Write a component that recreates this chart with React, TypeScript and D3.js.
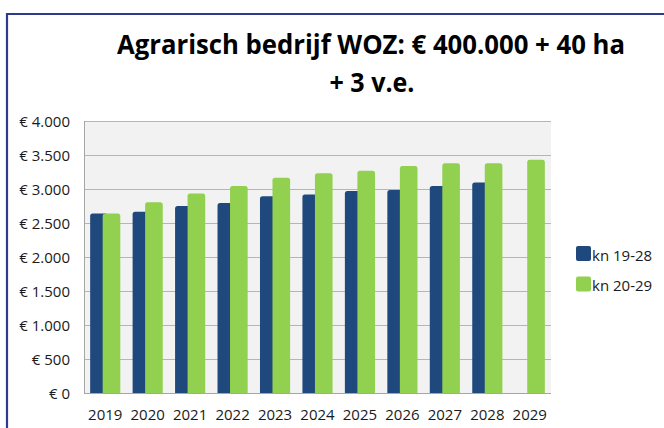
import * as d3 from "d3";

const years = ["2019", "2020", "2021", "2022", "2023", "2024", "2025", "2026", "2027", "2028", "2029"];
const kn1928: (number | null)[] = [2640, 2665, 2750, 2795, 2895, 2920, 2970, 2985, 3045, 3095, null];
const kn2029: number[] = [2640, 2805, 2935, 3045, 3165, 3230, 3270, 3340, 3380, 3380, 3430];
const seriesNames = ["kn 19-28", "kn 20-29"];
const yTicks = [0, 500, 1000, 1500, 2000, 2500, 3000, 3500, 4000];

const W = 664;
const H = 428;
const plot = { left: 84, right: 551, top: 121, bottom: 393 };
const colors = ["#1f497d", "#92d050"];
const font = "'Open Sans', 'Noto Sans', sans-serif";

// bar with rounded top corners
function topRounded(x: number, y: number, w: number, h: number, r: number) {
  const rr = Math.min(r, h, w / 2);
  return `M${x},${y + h}V${y + rr}Q${x},${y} ${x + rr},${y}H${x + w - rr}Q${x + w},${y} ${x + w},${y + rr}V${y + h}Z`;
}

const fmt = (v: number) => "€ " + (v === 0 ? "0" : d3.format(",")(v).replace(",", "."));

export default function App() {
  const x = d3
    .scaleBand<string>()
    .domain(years)
    .range([plot.left, plot.right])
    .paddingInner(0.29)
    .paddingOuter(0.145);
  const y = d3.scaleLinear().domain([0, 4000]).range([plot.bottom, plot.top]);
  const bw = x.bandwidth();
  const barW = bw * 0.585;

  return (
    <svg width={W} height={H} style={{ position: "absolute", left: 0, top: 0 }}>
      <rect x={0} y={0} width={W} height={H} fill="#fff" />
      {/* frame */}
      <path d={`M7,${H}V14H${W}`} fill="none" stroke="#2e3a8c" strokeWidth={2.2} />

      {/* title */}
      <text
        x={371}
        y={54}
        textAnchor="middle"
        fontFamily={font}
        fontWeight="bold"
        fontSize={26}
        fill="#000"
        textLength={508}
        lengthAdjust="spacingAndGlyphs"
      >
        Agrarisch bedrijf WOZ: € 400.000 + 40 ha
      </text>
      <text
        x={372}
        y={91.5}
        textAnchor="middle"
        fontFamily={font}
        fontWeight="bold"
        fontSize={26}
        fill="#000"
        textLength={85}
        lengthAdjust="spacingAndGlyphs"
      >
        + 3 v.e.
      </text>

      {/* plot area */}
      <rect x={plot.left} y={plot.top} width={plot.right - plot.left} height={plot.bottom - plot.top} fill="#f2f2f2" />
      {yTicks.map((t) => (
        <g key={t}>
          <line x1={plot.left} x2={plot.right} y1={Math.round(y(t)) + 0.5} y2={Math.round(y(t)) + 0.5} stroke="#b5b5b5" strokeWidth={1} />
          <text x={70} y={y(t) + 5.5} textAnchor="end" fontFamily={font} fontSize={15} fill="#1a1a1a">
            {fmt(t)}
          </text>
        </g>
      ))}
      <line x1={plot.left + 0.5} x2={plot.left + 0.5} y1={plot.top} y2={plot.bottom} stroke="#a6a6a6" />
      <line x1={plot.left} x2={plot.right} y1={plot.bottom + 0.5} y2={plot.bottom + 0.5} stroke="#a6a6a6" />

      {/* bars */}
      {years.map((yr, i) => {
        const bx = x(yr)!;
        const v1 = kn1928[i];
        const v2 = kn2029[i];
        return (
          <g key={yr}>
            {v1 != null && (
              <path d={topRounded(bx, y(v1), barW, y(0) - y(v1), 2.5)} fill={colors[0]} />
            )}
            <path d={topRounded(bx + bw - barW, y(v2), barW, y(0) - y(v2), 2.5)} fill={colors[1]} />
            <text x={bx + bw / 2} y={419.5} textAnchor="middle" fontFamily={font} fontSize={15} fill="#1a1a1a">
              {yr}
            </text>
          </g>
        );
      })}

      {/* legend */}
      {seriesNames.map((name, i) => (
        <g key={name} transform={`translate(576,${246 + i * 30.5})`}>
          <rect x={0} y={0} width={15} height={15} rx={2} fill={colors[i]} />
          <text x={16} y={14.5} fontFamily={font} fontSize={15} fill="#1a1a1a">
            {name}
          </text>
        </g>
      ))}
    </svg>
  );
}
